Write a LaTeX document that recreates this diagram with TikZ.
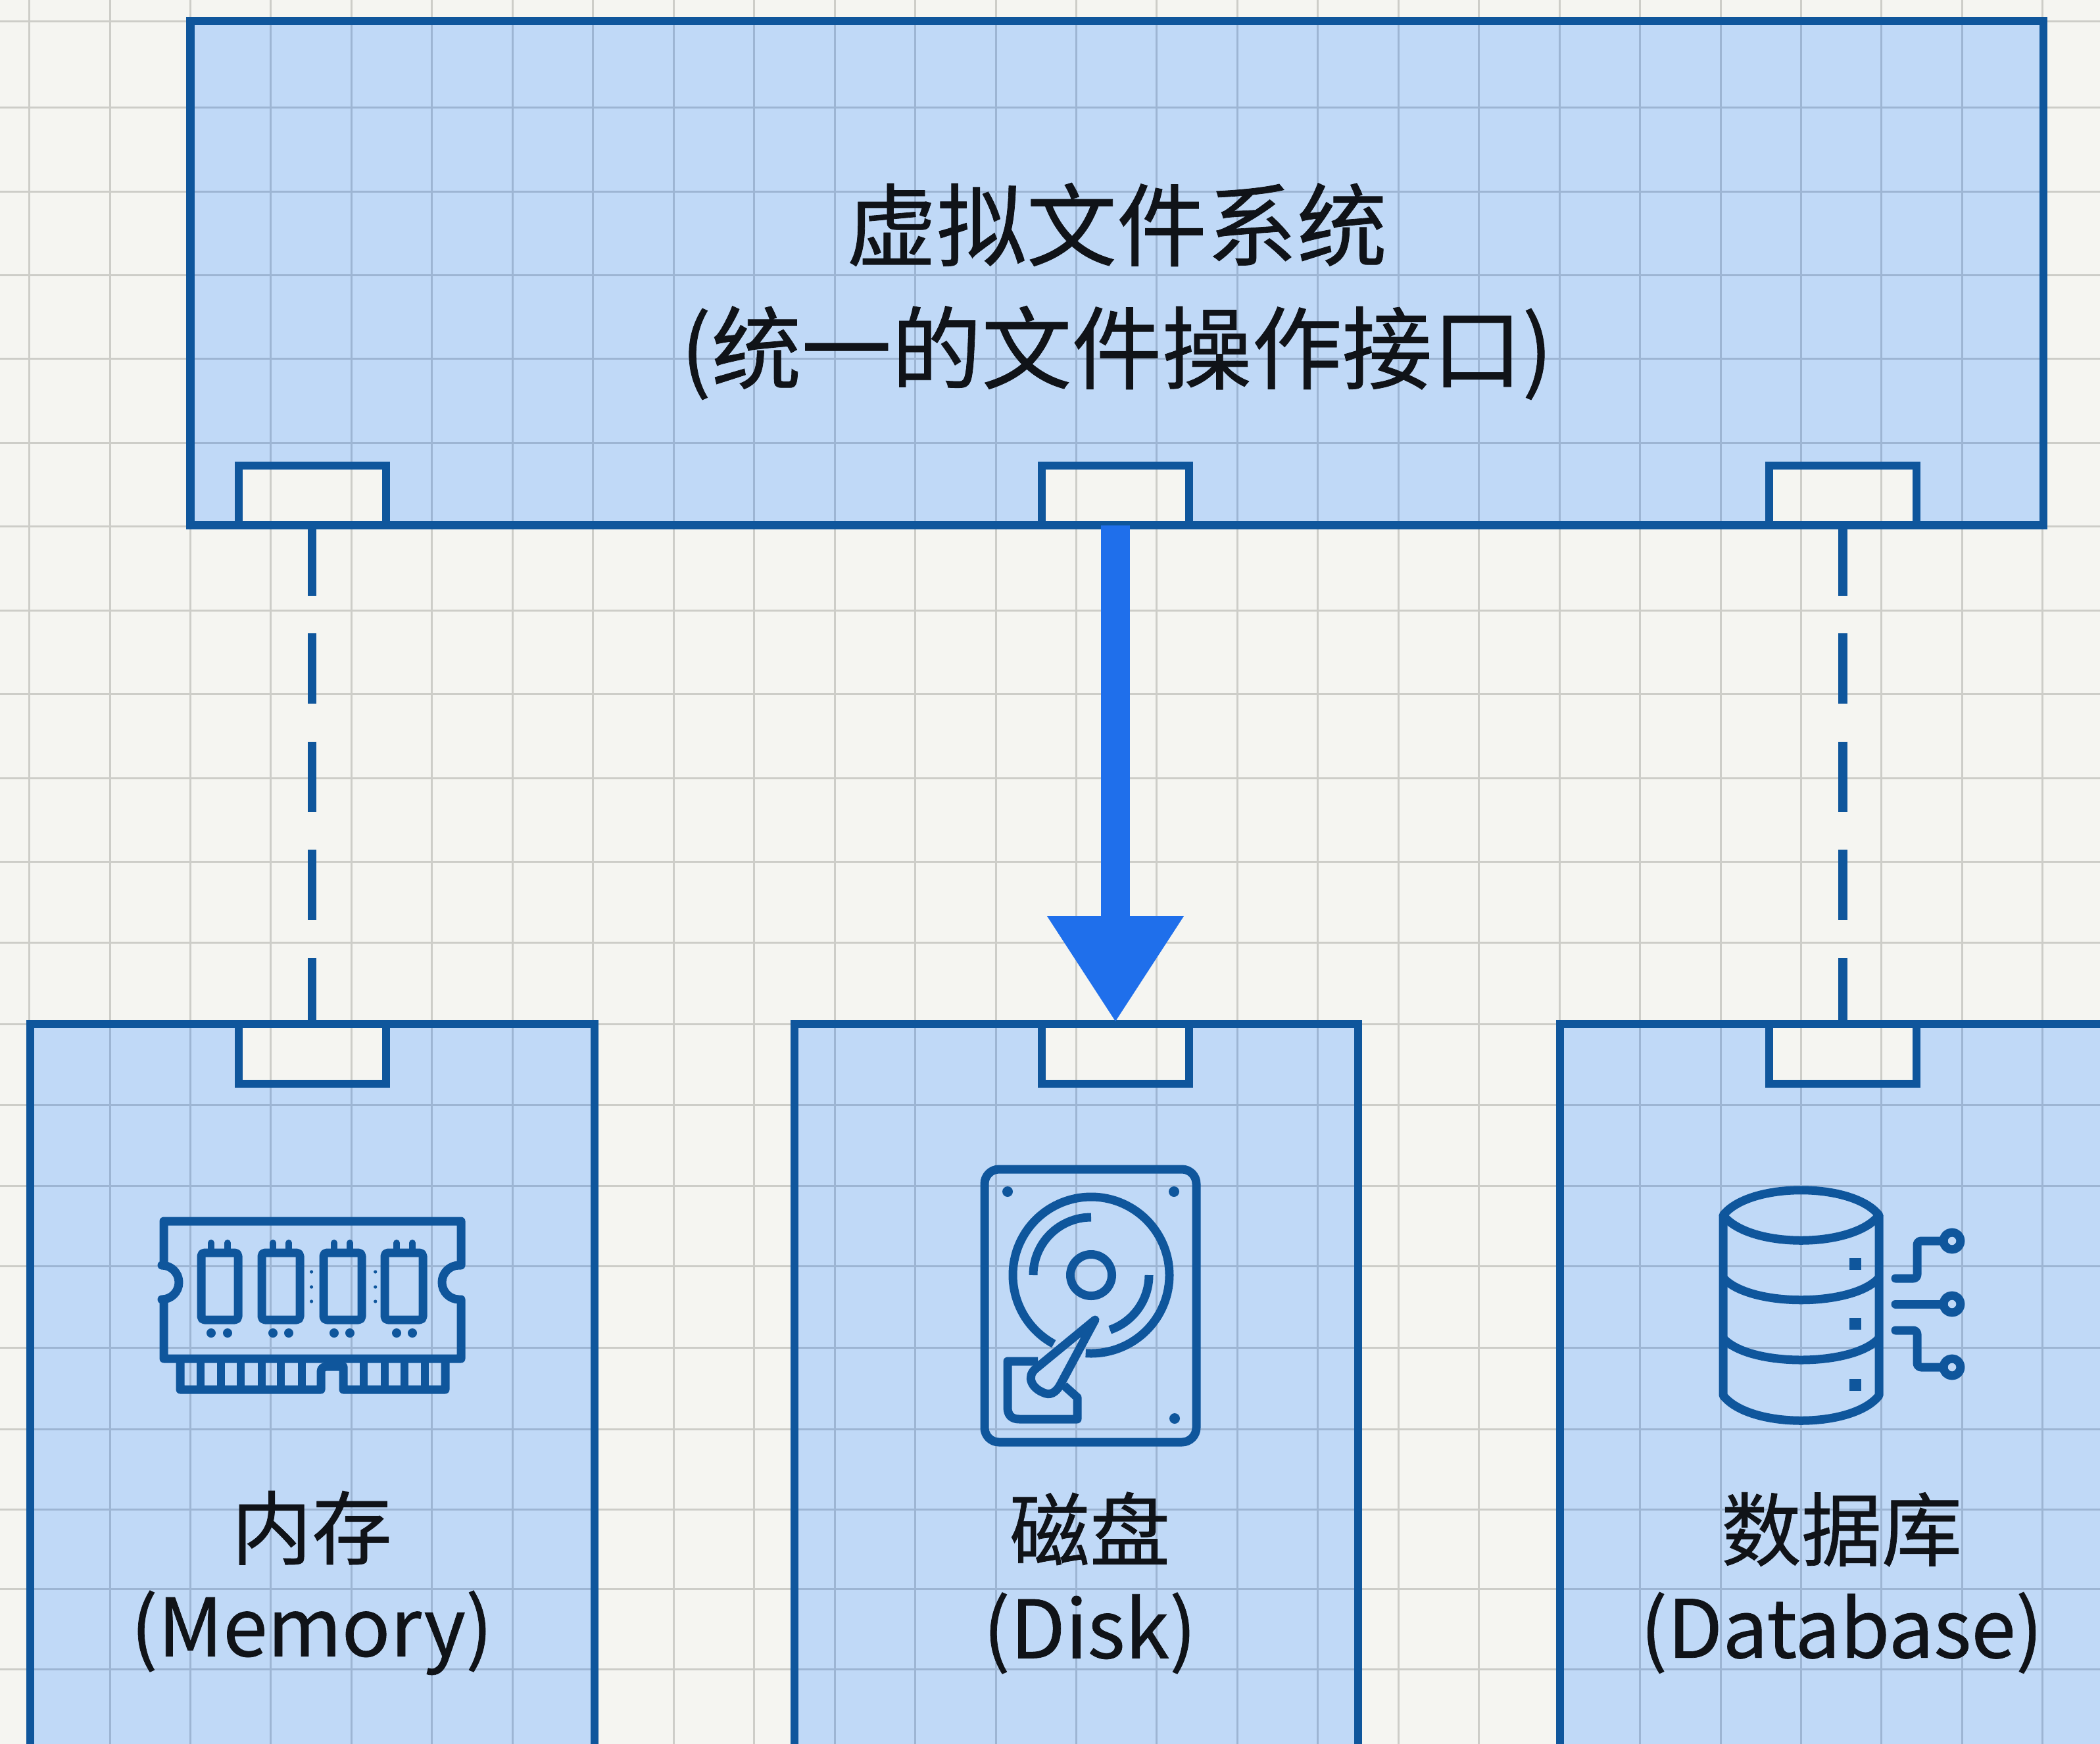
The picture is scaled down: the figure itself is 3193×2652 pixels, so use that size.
\documentclass[tikz,border=0pt]{standalone}
\usepackage{fontspec}
\setmainfont[FakeBold=0.6]{Noto Sans CJK SC}
\usetikzlibrary{arrows.meta}
\definecolor{paper}{HTML}{F5F5F1}
\definecolor{gridlight}{HTML}{CDCDC8}
\definecolor{griddark}{HTML}{9DB5D3}
\definecolor{panelblue}{HTML}{C0D9F7}
\definecolor{edge}{HTML}{0F569C}
\definecolor{arrowblue}{HTML}{1F6FEB}
\definecolor{inkdark}{HTML}{101318}
\newcommand{\sheetgrid}[2]{%
  \foreach \k in {0,...,25}
    \draw[#1,line width=#2] ({44.6+122.45*\k},0) -- ++(0,2652);
  \foreach \yy in {33,163,291,418,545,673,800,928,1055,1183,1310,1433,1557,1680,1803,1925,2049,2173,2295,2416,2538}
    \draw[#1,line width=#2] (0,\yy) -- ++(3193,0);
}
\tikzset{
  panel/.style={draw=edge,line width=12.5pt,rectangle,inner sep=0pt,outer sep=0pt},
  porttab/.style={panel,line width=12pt,minimum width=224pt},
  titletext/.style={text=inkdark,align=center,inner sep=0pt},
  dashlink/.style={draw=edge,line width=13.5pt,dash pattern=on 107pt off 57.5pt},
  mainlink/.style={draw=arrowblue,line width=44pt,-{Triangle[length=162pt,width=196pt]},shorten >=2pt},
  icon/.style={draw=edge,line width=13pt,line join=round,fill=none},
  iconthin/.style={icon,line cap=round},
}
\begin{document}
\begin{tikzpicture}[x=1pt,y=-1pt]
\clip (0,0) rectangle (3193,2652);
\fill[paper] (0,0) rectangle (3193,2652);
\sheetgrid{gridlight}{3pt}
% panel fills with the sheet grid showing through
\begin{scope}
\clip (289.5,32) rectangle (3107,798.5)
      (46,1557) rectangle (904,2700)
      (1208,1557) rectangle (2065,2700)
      (2372,1557) rectangle (3232,2700);
\fill[panelblue] (0,0) rectangle (3193,2652);
\sheetgrid{griddark}{3pt}
\end{scope}
% port tabs show the paper
\begin{scope}
\clip (362,708) rectangle (587,798.5)
      (1584,708) rectangle (1808,798.5)
      (2690,708) rectangle (2915,798.5)
      (362,1557) rectangle (587,1648)
      (1584,1557) rectangle (1808,1648)
      (2690,1557) rectangle (2915,1648);
\fill[paper] (0,0) rectangle (3193,2652);
\sheetgrid{gridlight}{3pt}
\end{scope}
% panels
\node[panel,minimum width=2817.5pt,minimum height=766.5pt] (vfs) at (1698.25,415.25) {};
\node[panel,minimum width=858pt,minimum height=1243pt] (mem) at (475,2178.5) {};
\node[panel,minimum width=857pt,minimum height=1243pt] (dsk) at (1636.5,2178.5) {};
\node[panel,minimum width=860pt,minimum height=1243pt] (dbs) at (2802,2178.5) {};
% tabs
\node[porttab,minimum height=90.5pt] (tabvl) at (474.5,753.25) {};
\node[porttab,minimum height=90.5pt] (tabvm) at (1696,753.25) {};
\node[porttab,minimum height=90.5pt] (tabvr) at (2802,753.25) {};
\node[porttab,minimum height=91pt] (tabm) at (474.5,1602.5) {};
\node[porttab,minimum height=91pt] (tabd) at (1696,1602.5) {};
\node[porttab,minimum height=91pt] (tabb) at (2802,1602.5) {};
% connectors
\draw[dashlink] (tabvl.south) -- (tabm.north);
\draw[dashlink] (tabvr.south) -- (tabb.north);
\draw[mainlink] (tabvm.south) -- (tabd.north);
% labels
\node[titletext,font=\fontsize{137pt}{187pt}\selectfont] (vfstext) at (1698,443) {虚拟文件系统\\(统一的文件操作接口)};
\node[titletext,font=\fontsize{122pt}{149pt}\selectfont] (memtext) at (474,2407) {内存\\(Memory)};
\node[titletext,font=\fontsize{122pt}{149pt}\selectfont] (dsktext) at (1657,2407) {磁盘\\(Disk)};
\node[titletext,font=\fontsize{122pt}{149pt}\selectfont] (dbstext) at (2800,2407) {数据库\\(Database)};
% memory icon
\draw[icon] (249,1857) -- (249,1924) -- (246,1924) arc[start angle=-90,end angle=90,radius=26] -- (249,1976) -- (249,2066) -- (701,2066) -- (701,1976) -- (698,1976)
  arc[start angle=90,end angle=270,radius=26] -- (701,1924) -- (701,1857) -- cycle;
\foreach \a/\b/\p/\q in {306/362/321/346,398/456/415/439,492/550/508/532,585/643/603/627}{
  \draw[icon,rounded corners=5pt] (\a,1905) rectangle (\b,2007);
  \draw[edge,line width=10pt,line cap=round] (\p,1890) -- (\p,1903);
  \draw[edge,line width=10pt,line cap=round] (\q,1890) -- (\q,1903);
  \fill[edge] (\p,2027) circle[radius=7];
  \fill[edge] (\q,2027) circle[radius=7];
}
\foreach \x in {473.6,570.7}{
  \foreach \y in {1934,1957,1979}
    \fill[edge] (\x,\y) circle[radius=2.6];
}
\draw[icon] (274,2066) -- (274,2113) -- (488,2113) -- (488,2086) .. controls (488,2080) and (492,2078) .. (498,2078) -- (522,2078) -- (522,2113) -- (677,2113) -- (677,2066);
\foreach \x in {305,336,366,397.5,427,458.6,553,585,615,646}
  \draw[edge,line width=12pt] (\x,2066) -- (\x,2113);
% disk icon
\draw[icon,rounded corners=22pt] (1497,1778) rectangle (1819,2193);
\foreach \x/\y in {1532/1812,1785/1812,1786/2157}
  \fill[edge] (\x,\y) circle[radius=8];
\draw[icon] (1659,1939) ++(118.5:119) arc[start angle=118.5,end angle=454,radius=119];
\draw[icon] (1659,1939) circle[radius=31.5];
\draw[icon] (1659,1939) ++(180:88) arc[start angle=180,end angle=270,radius=88];
\draw[icon] (1659,1939) ++(0:88) arc[start angle=0,end angle=71,radius=88];
\draw[icon] (1665,2007) -- (1575,2081) .. controls (1560,2093) and (1568,2112) .. (1590,2119) .. controls (1600,2122) and (1608,2114) .. (1613,2104) -- cycle;
\draw[icon] (1578,2070) -- (1532,2070) -- (1532,2140) .. controls (1532,2152) and (1538,2158) .. (1550,2158) -- (1638,2158) -- (1638,2125) -- (1618,2107);
% database icon
\draw[icon] (2620,1848) .. controls (2660,1797) and (2817,1797) .. (2857,1848) .. controls (2817,1899) and (2660,1899) .. cycle;
\draw[icon] (2620,1848) -- (2620,2122) .. controls (2660,2173) and (2817,2173) .. (2857,2122) -- (2857,1848);
\draw[icon] (2620,1943) .. controls (2660,1988) and (2817,1988) .. (2857,1943);
\draw[icon] (2620,2035) .. controls (2660,2079) and (2817,2079) .. (2857,2035);
\foreach \y in {1913,2004,2097}
  \fill[edge] (2812,\y) rectangle ++(18,18);
\draw[iconthin,rounded corners=6pt] (2882,1944) -- (2915,1944) -- (2915,1887) -- (2955,1887);
\draw[iconthin] (2882,1983) -- (2955,1983);
\draw[iconthin,rounded corners=6pt] (2882,2023) -- (2915,2023) -- (2915,2079) -- (2955,2079);
\foreach \y in {1887,1983,2079}
  \draw[icon] (2968,\y) circle[radius=13];
\end{tikzpicture}
\end{document}
